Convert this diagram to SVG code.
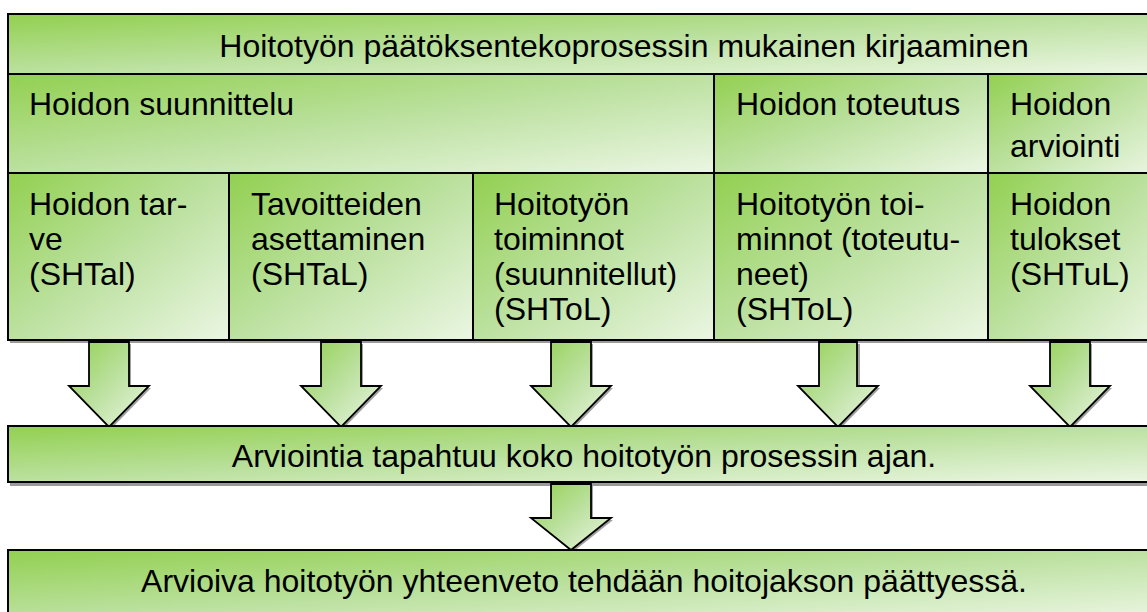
<svg xmlns="http://www.w3.org/2000/svg" width="1147" height="612" viewBox="0 0 1147 612">
<defs>
<linearGradient id="g" x1="0" y1="0" x2="1" y2="1">
<stop offset="0" stop-color="#92d050"/>
<stop offset="0.5" stop-color="#bce1a0"/>
<stop offset="1" stop-color="#ebf6e3"/>
</linearGradient>
<style>
.c{fill:url(#g);stroke:#000;stroke-width:2}
.sh{fill:#9a9a9a;stroke:none}
.a{fill:url(#g);stroke:#000;stroke-width:1.8;stroke-linejoin:miter}
.ash{fill:#a0a0a0;stroke:none}
text{font-family:"Liberation Sans",Arial,sans-serif;font-size:32px;fill:#000}
.m{text-anchor:middle}
</style>
</defs>
<rect width="1147" height="612" fill="#fff"/>
<!-- shadows -->
<rect class="sh" x="10" y="17" width="1150" height="326"/>
<rect class="sh" x="10" y="429" width="1150" height="57"/>
<rect class="sh" x="10" y="553" width="1150" height="62"/>
<g id="title"><rect class="c" x="8" y="14" width="1150" height="60"/><text class="m" x="624" y="57">Hoitotyön päätöksentekoprosessin mukainen kirjaaminen</text></g>
<g id="suunnittelu"><rect class="c" x="8" y="74" width="706" height="99"/><text x="29" y="115">Hoidon suunnittelu</text></g>
<g id="toteutus"><rect class="c" x="714" y="74" width="274" height="99"/><text x="736" y="115">Hoidon toteutus</text></g>
<g id="arviointi"><rect class="c" x="988" y="74" width="170" height="99"/><text x="1010" y="115">Hoidon</text><text x="1010" y="157">arviointi</text></g>
<g id="tarve"><rect class="c" x="8" y="173" width="221" height="167"/><text x="29" y="215">Hoidon tar-</text><text x="29" y="250">ve</text><text x="29" y="285">(SHTal)</text></g>
<g id="tavoitteet"><rect class="c" x="229" y="173" width="244" height="167"/><text x="251" y="215">Tavoitteiden</text><text x="251" y="250">asettaminen</text><text x="251" y="285">(SHTaL)</text></g>
<g id="suunnitellut"><rect class="c" x="473" y="173" width="241" height="167"/><text x="494" y="215">Hoitotyön</text><text x="494" y="250">toiminnot</text><text x="494" y="285">(suunnitellut)</text><text x="494" y="320">(SHToL)</text></g>
<g id="toteutuneet"><rect class="c" x="714" y="173" width="274" height="167"/><text x="736" y="215">Hoitotyön toi-</text><text x="736" y="250">minnot (toteutu-</text><text x="736" y="285">neet)</text><text x="736" y="320">(SHToL)</text></g>
<g id="tulokset"><rect class="c" x="988" y="173" width="170" height="167"/><text x="1010" y="215">Hoidon</text><text x="1010" y="250">tulokset</text><text x="1010" y="285">(SHTuL)</text></g>
<g id="connectors">
<g transform="translate(109,0)"><path class="ash" d="M-18,344 H22 V388 H42 L2,429 L-38,388 H-18 Z"/><path class="a" d="M-20,342 H20 V386 H40 L0,427 L-40,386 H-20 Z"/></g>
<g transform="translate(341,0)"><path class="ash" d="M-18,344 H22 V388 H42 L2,429 L-38,388 H-18 Z"/><path class="a" d="M-20,342 H20 V386 H40 L0,427 L-40,386 H-20 Z"/></g>
<g transform="translate(571,0)"><path class="ash" d="M-18,344 H22 V388 H42 L2,429 L-38,388 H-18 Z"/><path class="a" d="M-20,342 H20 V386 H40 L0,427 L-40,386 H-20 Z"/></g>
<g transform="translate(838,0)"><path class="ash" d="M-18,344 H22 V388 H42 L2,429 L-38,388 H-18 Z"/><path class="a" d="M-19,342 H19 V386 H40 L0,427 L-40,386 H-19 Z"/></g>
<g transform="translate(1070,0)"><path class="ash" d="M-18,344 H22 V388 H42 L2,429 L-38,388 H-18 Z"/><path class="a" d="M-20,342 H20 V386 H40 L0,427 L-40,386 H-20 Z"/></g>
<g transform="translate(571,0)"><path class="ash" d="M-18,486 H22 V520 H42 L2,552 L-38,520 H-18 Z"/><path class="a" d="M-20,484 H20 V518 H40 L0,550 L-40,518 H-20 Z"/></g>
</g>
<g id="arviointia"><rect class="c" x="8" y="426" width="1150" height="56"/><text class="m" x="584" y="467">Arviointia tapahtuu koko hoitotyön prosessin ajan.</text></g>
<g id="yhteenveto"><rect class="c" x="8" y="550" width="1150" height="70"/><text class="m" x="584" y="592">Arvioiva hoitotyön yhteenveto tehdään hoitojakson päättyessä.</text></g>
</svg>
